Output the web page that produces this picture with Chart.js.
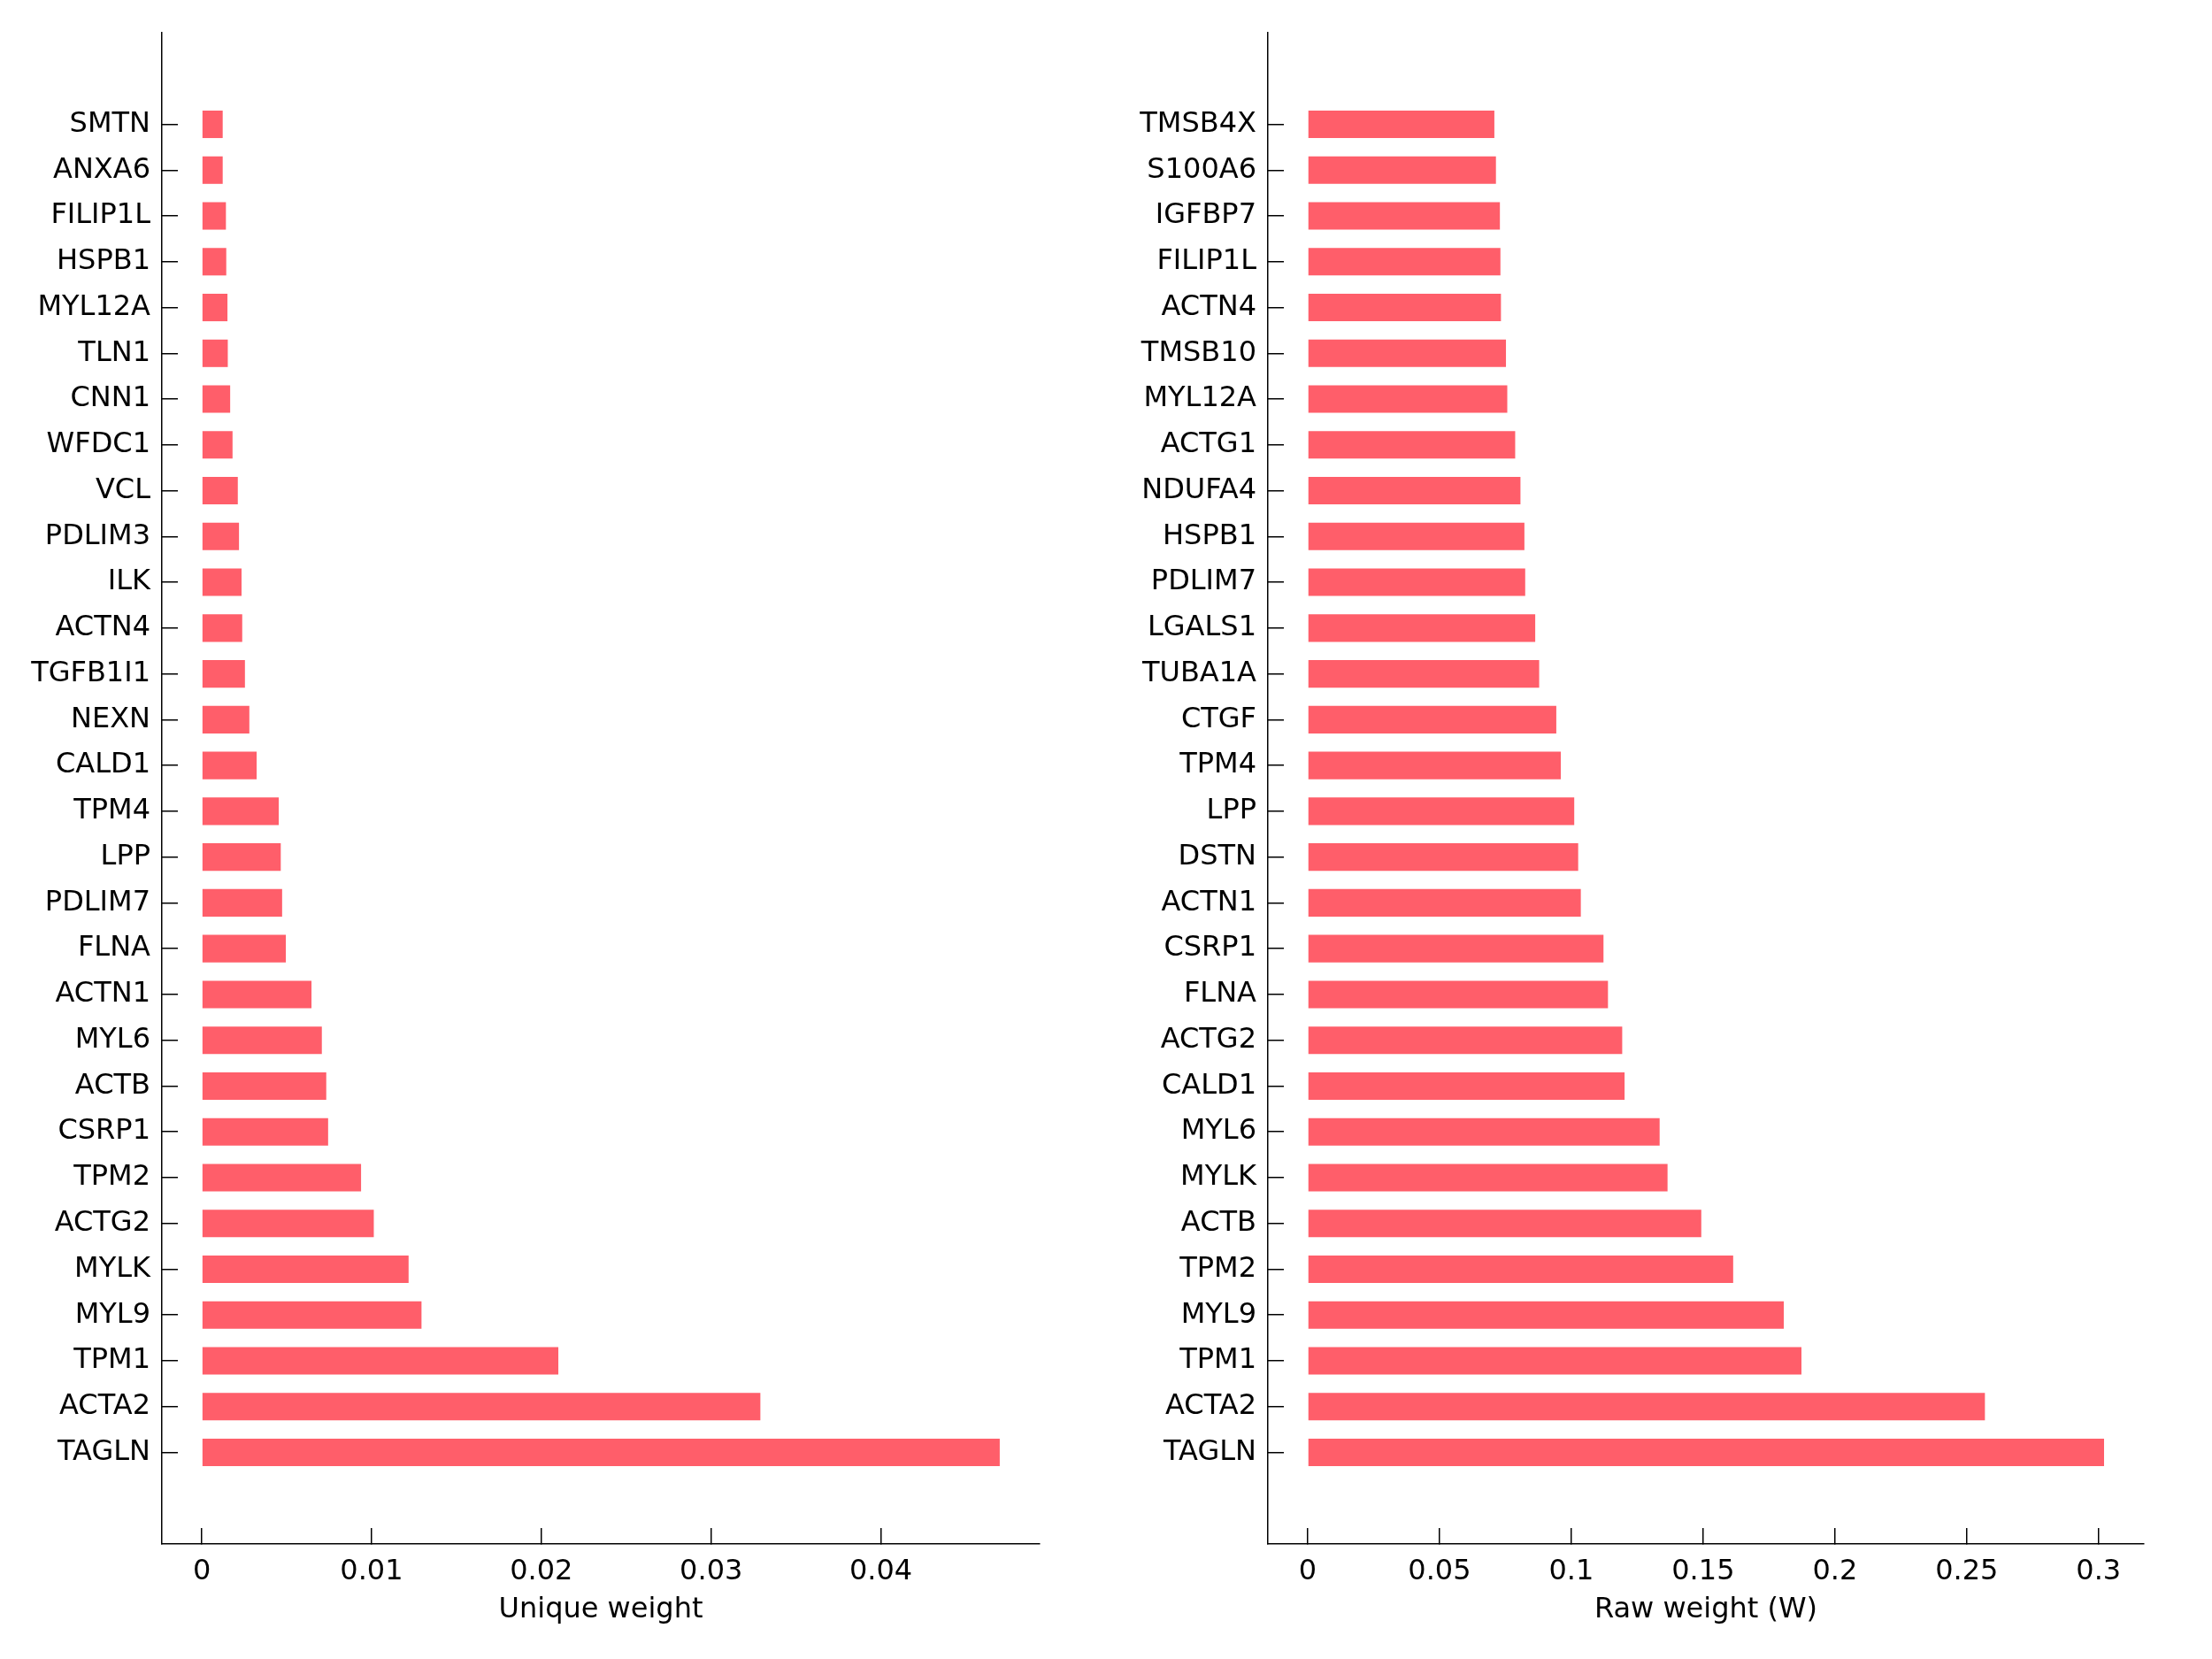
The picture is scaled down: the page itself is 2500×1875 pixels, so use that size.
<!DOCTYPE html>
<html>
<head>
<meta charset="utf-8">
<script src="https://cdn.jsdelivr.net/npm/chart.js@4"></script>
<style>
  body { margin: 0; background: #fff; }
  .panel { position: absolute; top: 0; width: 1250px; height: 1875px; }
</style>
</head>
<body>
<div class="panel" style="left:0"><canvas id="uniqueChart" width="1250" height="1875"></canvas></div>
<div class="panel" style="left:1250px"><canvas id="rawChart" width="1250" height="1875"></canvas></div>
<script>
// genes listed top to bottom, as in the picture
const uniqueGenes = ['SMTN', 'ANXA6', 'FILIP1L', 'HSPB1', 'MYL12A', 'TLN1', 'CNN1', 'WFDC1', 'VCL', 'PDLIM3',
    'ILK', 'ACTN4', 'TGFB1I1', 'NEXN', 'CALD1', 'TPM4', 'LPP', 'PDLIM7', 'FLNA', 'ACTN1',
    'MYL6', 'ACTB', 'CSRP1', 'TPM2', 'ACTG2', 'MYLK', 'MYL9', 'TPM1', 'ACTA2', 'TAGLN'];
const uniqueWeights = [0.00123, 0.00123, 0.00142, 0.00144, 0.00151, 0.00153, 0.00167, 0.00181, 0.00212, 0.00219,
    0.00234, 0.00238, 0.00254, 0.00280, 0.00323, 0.00453, 0.00465, 0.00473, 0.00495, 0.00646,
    0.00707, 0.00733, 0.00744, 0.00938, 0.01013, 0.01218, 0.01294, 0.0210, 0.0329, 0.0470];
const uniqueTicks = [0, 0.01, 0.02, 0.03, 0.04];

const rawGenes = ['TMSB4X', 'S100A6', 'IGFBP7', 'FILIP1L', 'ACTN4', 'TMSB10', 'MYL12A', 'ACTG1', 'NDUFA4', 'HSPB1',
    'PDLIM7', 'LGALS1', 'TUBA1A', 'CTGF', 'TPM4', 'LPP', 'DSTN', 'ACTN1', 'CSRP1', 'FLNA',
    'ACTG2', 'CALD1', 'MYL6', 'MYLK', 'ACTB', 'TPM2', 'MYL9', 'TPM1', 'ACTA2', 'TAGLN'];
const rawWeights = [0.0708, 0.0714, 0.0729, 0.0731, 0.0733, 0.0752, 0.0757, 0.0787, 0.0807, 0.0822,
    0.0825, 0.0863, 0.0878, 0.0943, 0.0960, 0.1011, 0.1026, 0.1036, 0.1122, 0.1139,
    0.1193, 0.1202, 0.1335, 0.1365, 0.1493, 0.1614, 0.1806, 0.1873, 0.2569, 0.3021];
const rawTicks = [0, 0.05, 0.1, 0.15, 0.2, 0.25, 0.3];

const FONT = { family: 'DejaVu Sans', size: 32 };
const BAR_COLOR = 'rgb(255, 94, 106)';

function makeChart(canvasId, genes, weights, tickValues, title, rightPad) {
    let top = Math.max(...weights);
    let ctx = document.getElementById(canvasId).getContext('2d');
    return new Chart(ctx, {
        type: 'bar',
        data: {
            datasets: [{
                data: weights.map((w, i) => ({ x: w, y: i + 1 })),
                backgroundColor: BAR_COLOR,
                borderWidth: 0,
                barPercentage: 0.6,
                categoryPercentage: 1
            }]
        },
        options: {
            indexAxis: 'y',
            responsive: false,
            animation: false,
            devicePixelRatio: 1,
            layout: { padding: { left: 0, top: 37, right: rightPad, bottom: 0 } },
            plugins: { legend: { display: false }, tooltip: { enabled: false } },
            scales: {
                y: {
                    type: 'linear',
                    reverse: true,
                    offset: false,
                    min: -1,
                    max: genes.length + 2,
                    afterBuildTicks: scale => { scale.ticks = genes.map((g, i) => ({ value: i + 1 })); },
                    afterFit: scale => {
                        scale.width = 183;
                        scale.paddingTop = 0;
                        scale.paddingBottom = 0;
                    },
                    ticks: {
                        color: '#000',
                        font: FONT,
                        padding: 31,
                        autoSkip: false,
                        callback: value => genes[value - 1]
                    },
                    grid: { offset: false, drawOnChartArea: false, color: '#000', lineWidth: 1.5, tickLength: -18 },
                    border: { display: true, color: '#000', width: 1.5 }
                },
                x: {
                    type: 'linear',
                    min: -0.05 * top,
                    max: 1.05 * top,
                    afterBuildTicks: scale => { scale.ticks = tickValues.map(v => ({ value: v })); },
                    afterFit: scale => {
                        scale.height = 130;
                        scale.paddingLeft = 0;
                        scale.paddingRight = 0;
                    },
                    ticks: {
                        color: '#000',
                        font: FONT,
                        padding: 30,
                        maxRotation: 0,
                        autoSkip: false,
                        callback: value => String(value)
                    },
                    grid: { drawOnChartArea: false, color: '#000', lineWidth: 1.5, tickLength: -18 },
                    border: { display: true, color: '#000', width: 1.5 },
                    title: {
                        display: true,
                        text: title,
                        color: '#000',
                        font: FONT,
                        padding: { top: 0, bottom: 36 }
                    }
                }
            }
        }
    });
}

makeChart('uniqueChart', uniqueGenes, uniqueWeights, uniqueTicks, 'Unique weight', 75);
makeChart('rawChart', rawGenes, rawWeights, rawTicks, 'Raw weight (W)', 77);
</script>
</body>
</html>
